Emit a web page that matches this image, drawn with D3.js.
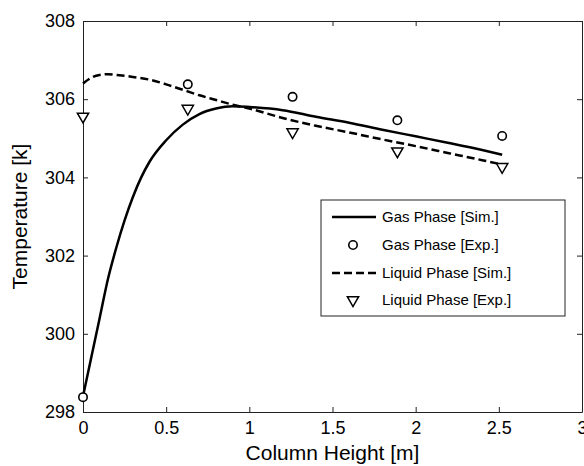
<!DOCTYPE html>
<html><head><meta charset="utf-8">
<script src="https://cdn.jsdelivr.net/npm/d3@7"></script>
<style>body{margin:0;background:#fff}svg{display:block}</style>
</head><body>
<svg id="c" width="584" height="466"></svg>
<script>
// Data
const gasSimX = [0, 0.05, 0.1, 0.15, 0.2, 0.25, 0.3, 0.35, 0.4, 0.5, 0.6, 0.7, 0.8, 0.9, 1.0, 1.2, 1.4, 1.6, 1.8, 2.0, 2.2, 2.4, 2.52];
const gasSimY = [298.4, 299.4, 300.4, 301.4, 302.2, 302.9, 303.5, 304.0, 304.4, 304.95, 305.35, 305.62, 305.76, 305.82, 305.8, 305.72, 305.55, 305.4, 305.22, 305.05, 304.88, 304.7, 304.58];
const liqSimX = [0, 0.05, 0.1, 0.15, 0.2, 0.3, 0.4, 0.5, 0.6, 0.7, 0.8, 0.9, 1.0, 1.2, 1.4, 1.6, 1.8, 2.0, 2.2, 2.4, 2.52];
const liqSimY = [306.4, 306.55, 306.62, 306.64, 306.62, 306.57, 306.5, 306.38, 306.24, 306.1, 305.98, 305.86, 305.76, 305.52, 305.32, 305.15, 304.97, 304.8, 304.62, 304.44, 304.33];
const expX = [0, 0.63, 1.26, 1.89, 2.52];
const gasExpY = [298.38, 306.38, 306.06, 305.46, 305.06];
const liqExpY = [305.56, 305.76, 305.16, 304.67, 304.27];
const xTicks = [0, 0.5, 1, 1.5, 2, 2.5, 3];
const yTicks = [298, 300, 302, 304, 306, 308];
const legendLabels = ["Gas Phase [Sim.]", "Gas Phase [Exp.]", "Liquid Phase [Sim.]", "Liquid Phase [Exp.]"];

const font = "'Liberation Sans', Arial, Helvetica, sans-serif";
const svg = d3.select("#c");
const L = 83, R = 582, T = 21, B = 412;
const x = d3.scaleLinear().domain([0, 3]).range([L, R]);
const y = d3.scaleLinear().domain([298, 308]).range([B, T]);

// Axes (inward ticks, box)
const axisStyle = g => {
  g.selectAll("path.domain").attr("stroke", "#222").attr("stroke-width", 1);
  g.selectAll(".tick line").attr("stroke", "#222");
  g.selectAll(".tick text").attr("font-family", font).attr("font-size", 18).attr("fill", "#000");
};
svg.append("g").attr("transform", `translate(0,${B})`)
  .call(d3.axisBottom(x).tickValues(xTicks).tickFormat(d3.format("")).tickSizeInner(-5).tickSizeOuter(0).tickPadding(9))
  .call(axisStyle);
svg.append("g").attr("transform", `translate(0,${T})`)
  .call(d3.axisTop(x).tickValues(xTicks).tickFormat("").tickSizeInner(-5).tickSizeOuter(0))
  .call(axisStyle);
svg.append("g").attr("transform", `translate(${L},0)`)
  .call(d3.axisLeft(y).tickValues(yTicks).tickFormat(d3.format("d")).tickSizeInner(-5).tickSizeOuter(0).tickPadding(8))
  .call(axisStyle);
svg.append("g").attr("transform", `translate(${R},0)`)
  .call(d3.axisRight(y).tickValues(yTicks).tickFormat("").tickSizeInner(-5).tickSizeOuter(0))
  .call(axisStyle);

// Axis labels
svg.append("text").attr("x", (L + R) / 2).attr("y", 460).attr("text-anchor", "middle")
  .attr("font-family", font).attr("font-size", 21).text("Column Height [m]");
svg.append("text").attr("transform", `translate(27,${(T + B) / 2}) rotate(-90)`).attr("text-anchor", "middle")
  .attr("font-family", font).attr("font-size", 21).text("Temperature [k]");

// Lines
const line = d3.line().x(d => x(d[0])).y(d => y(d[1])).curve(d3.curveMonotoneX);
svg.append("path").datum(gasSimX.map((v, i) => [v, gasSimY[i]]))
  .attr("d", line).attr("fill", "none").attr("stroke", "#000").attr("stroke-width", 2.5);
svg.append("path").datum(liqSimX.map((v, i) => [v, liqSimY[i]]))
  .attr("d", line).attr("fill", "none").attr("stroke", "#000").attr("stroke-width", 2.5)
  .attr("stroke-dasharray", "8,4");

// Markers
const tri = d3.symbol().type(d3.symbolTriangle).size(55);
svg.append("g").selectAll("circle").data(expX.map((v, i) => [v, gasExpY[i]])).join("circle")
  .attr("cx", d => x(d[0])).attr("cy", d => y(d[1])).attr("r", 4.2)
  .attr("fill", "#fff").attr("stroke", "#000").attr("stroke-width", 1.6);
svg.append("g").selectAll("path").data(expX.map((v, i) => [v, liqExpY[i]])).join("path")
  .attr("d", tri).attr("transform", d => `translate(${x(d[0])},${y(d[1])}) rotate(180)`)
  .attr("fill", "#fff").attr("stroke", "#000").attr("stroke-width", 1.5);

// Legend
const lg = svg.append("g");
lg.append("rect").attr("x", 321).attr("y", 200).attr("width", 244).attr("height", 116)
  .attr("fill", "#fff").attr("stroke", "#222").attr("stroke-width", 1);
const rowsY = [217, 245, 273, 300];
legendLabels.forEach((lab, i) => {
  const ry = rowsY[i];
  if (i === 0 || i === 2) {
    lg.append("line").attr("x1", 332).attr("x2", 376).attr("y1", ry).attr("y2", ry)
      .attr("stroke", "#000").attr("stroke-width", 2.5)
      .attr("stroke-dasharray", i === 2 ? "8,4" : null);
  } else if (i === 1) {
    lg.append("circle").attr("cx", 353).attr("cy", ry).attr("r", 4.2)
      .attr("fill", "#fff").attr("stroke", "#000").attr("stroke-width", 1.6);
  } else {
    lg.append("path").attr("d", tri).attr("transform", `translate(353,${ry}) rotate(180)`)
      .attr("fill", "#fff").attr("stroke", "#000").attr("stroke-width", 1.5);
  }
  lg.append("text").attr("x", 382).attr("y", ry).attr("dy", "0.35em")
    .attr("font-family", font).attr("font-size", 15).text(lab);
});
</script>
</body></html>
